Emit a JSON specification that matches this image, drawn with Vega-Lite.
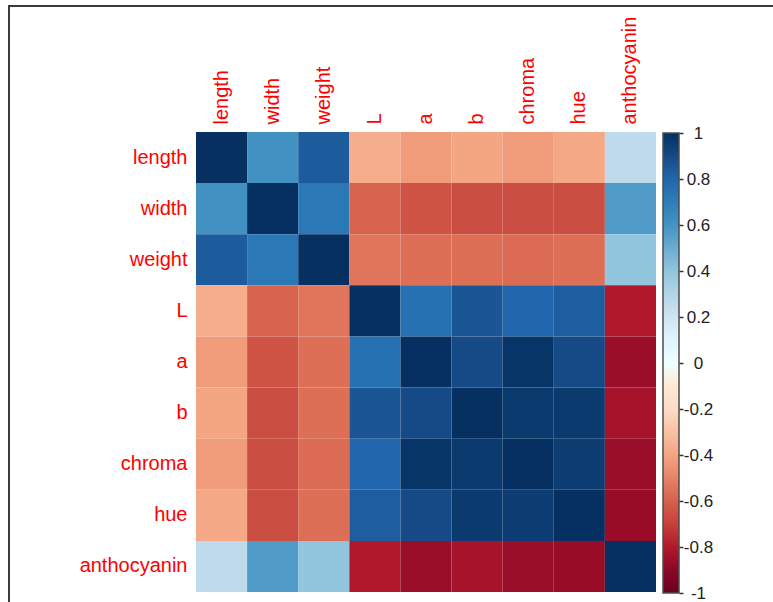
{
  "$schema": "https://vega.github.io/schema/vega-lite/v6.json",
  "width": 766,
  "height": 598,
  "autosize": {"type": "none"},
  "padding": {"left": 9, "top": 6, "right": -2, "bottom": -2},
  "background": "white",
  "config": {
    "view": {"stroke": "#3a3a3a", "strokeWidth": 2},
    "font": "Liberation Sans"
  },
  "data": {
    "values": [
      {"row": "length", "col": "length", "value": 1},
      {"row": "length", "col": "width", "value": 0.61},
      {"row": "length", "col": "weight", "value": 0.84},
      {"row": "length", "col": "L", "value": -0.37},
      {"row": "length", "col": "a", "value": -0.43},
      {"row": "length", "col": "b", "value": -0.40},
      {"row": "length", "col": "chroma", "value": -0.43},
      {"row": "length", "col": "hue", "value": -0.39},
      {"row": "length", "col": "anthocyanin", "value": 0.26},
      {"row": "width", "col": "length", "value": 0.61},
      {"row": "width", "col": "width", "value": 1},
      {"row": "width", "col": "weight", "value": 0.72},
      {"row": "width", "col": "L", "value": -0.59},
      {"row": "width", "col": "a", "value": -0.64},
      {"row": "width", "col": "b", "value": -0.66},
      {"row": "width", "col": "chroma", "value": -0.66},
      {"row": "width", "col": "hue", "value": -0.66},
      {"row": "width", "col": "anthocyanin", "value": 0.57},
      {"row": "weight", "col": "length", "value": 0.84},
      {"row": "weight", "col": "width", "value": 0.72},
      {"row": "weight", "col": "weight", "value": 1},
      {"row": "weight", "col": "L", "value": -0.54},
      {"row": "weight", "col": "a", "value": -0.56},
      {"row": "weight", "col": "b", "value": -0.56},
      {"row": "weight", "col": "chroma", "value": -0.57},
      {"row": "weight", "col": "hue", "value": -0.56},
      {"row": "weight", "col": "anthocyanin", "value": 0.40},
      {"row": "L", "col": "length", "value": -0.37},
      {"row": "L", "col": "width", "value": -0.59},
      {"row": "L", "col": "weight", "value": -0.54},
      {"row": "L", "col": "L", "value": 1},
      {"row": "L", "col": "a", "value": 0.75},
      {"row": "L", "col": "b", "value": 0.86},
      {"row": "L", "col": "chroma", "value": 0.80},
      {"row": "L", "col": "hue", "value": 0.83},
      {"row": "L", "col": "anthocyanin", "value": -0.80},
      {"row": "a", "col": "length", "value": -0.43},
      {"row": "a", "col": "width", "value": -0.64},
      {"row": "a", "col": "weight", "value": -0.56},
      {"row": "a", "col": "L", "value": 0.75},
      {"row": "a", "col": "a", "value": 1},
      {"row": "a", "col": "b", "value": 0.90},
      {"row": "a", "col": "chroma", "value": 0.98},
      {"row": "a", "col": "hue", "value": 0.90},
      {"row": "a", "col": "anthocyanin", "value": -0.86},
      {"row": "b", "col": "length", "value": -0.40},
      {"row": "b", "col": "width", "value": -0.66},
      {"row": "b", "col": "weight", "value": -0.56},
      {"row": "b", "col": "L", "value": 0.86},
      {"row": "b", "col": "a", "value": 0.90},
      {"row": "b", "col": "b", "value": 1},
      {"row": "b", "col": "chroma", "value": 0.96},
      {"row": "b", "col": "hue", "value": 0.96},
      {"row": "b", "col": "anthocyanin", "value": -0.83},
      {"row": "chroma", "col": "length", "value": -0.43},
      {"row": "chroma", "col": "width", "value": -0.66},
      {"row": "chroma", "col": "weight", "value": -0.57},
      {"row": "chroma", "col": "L", "value": 0.80},
      {"row": "chroma", "col": "a", "value": 0.98},
      {"row": "chroma", "col": "b", "value": 0.96},
      {"row": "chroma", "col": "chroma", "value": 1},
      {"row": "chroma", "col": "hue", "value": 0.95},
      {"row": "chroma", "col": "anthocyanin", "value": -0.86},
      {"row": "hue", "col": "length", "value": -0.39},
      {"row": "hue", "col": "width", "value": -0.66},
      {"row": "hue", "col": "weight", "value": -0.56},
      {"row": "hue", "col": "L", "value": 0.83},
      {"row": "hue", "col": "a", "value": 0.90},
      {"row": "hue", "col": "b", "value": 0.96},
      {"row": "hue", "col": "chroma", "value": 0.95},
      {"row": "hue", "col": "hue", "value": 1},
      {"row": "hue", "col": "anthocyanin", "value": -0.87},
      {"row": "anthocyanin", "col": "length", "value": 0.26},
      {"row": "anthocyanin", "col": "width", "value": 0.57},
      {"row": "anthocyanin", "col": "weight", "value": 0.40},
      {"row": "anthocyanin", "col": "L", "value": -0.80},
      {"row": "anthocyanin", "col": "a", "value": -0.86},
      {"row": "anthocyanin", "col": "b", "value": -0.83},
      {"row": "anthocyanin", "col": "chroma", "value": -0.86},
      {"row": "anthocyanin", "col": "hue", "value": -0.87},
      {"row": "anthocyanin", "col": "anthocyanin", "value": 1}
    ]
  },
  "layer": [
    {
      "mark": {"type": "rect"},
      "encoding": {
        "x": {
          "field": "col",
          "type": "nominal",
          "sort": ["length", "width", "weight", "L", "a", "b", "chroma", "hue", "anthocyanin"],
          "scale": {"paddingInner": 0, "paddingOuter": 0, "range": [187, 647], "round": false},
          "axis": {
            "orient": "top",
            "offset": -126,
            "title": null,
            "domain": false,
            "ticks": false,
            "tickSize": 0,
            "labelAngle": -90,
            "labelAlign": "left",
            "labelBaseline": "middle",
            "labelPadding": 8,
            "labelFontSize": 20,
            "labelColor": "#FF0000",
            "labelFont": "Liberation Sans",
            "grid": false
          }
        },
        "y": {
          "field": "row",
          "type": "nominal",
          "sort": ["length", "width", "weight", "L", "a", "b", "chroma", "hue", "anthocyanin"],
          "scale": {"paddingInner": 0, "paddingOuter": 0, "range": [126, 586], "round": false},
          "axis": {
            "orient": "left",
            "offset": -187,
            "title": null,
            "domain": false,
            "ticks": false,
            "tickSize": 0,
            "labelAlign": "right",
            "labelBaseline": "middle",
            "labelPadding": 9,
            "labelFontSize": 20,
            "labelColor": "#FF0000",
            "labelFont": "Liberation Sans",
            "grid": false
          }
        },
        "color": {
          "field": "value",
          "type": "quantitative",
          "scale": {
            "type": "linear",
            "domain": [-1, -0.8, -0.6, -0.4, -0.2, 0, 0.2, 0.4, 0.6, 0.8, 1],
            "range": ["#67001F", "#B2182B", "#D6604D", "#F4A582", "#FDDBC7", "#FFFFFF", "#D1E5F0", "#92C5DE", "#4393C3", "#2166AC", "#053061"]
          },
          "legend": {
            "orient": "none",
            "legendX": 654,
            "legendY": 127,
            "direction": "vertical",
            "title": null,
            "padding": 0,
            "gradientLength": 460,
            "gradientThickness": 16,
            "gradientStrokeColor": "#4d4d4d",
            "gradientStrokeWidth": 1.5,
            "labelExpr": "''"
          }
        }
      }
    },
    {
      "mark": {"type": "point", "opacity": 0},
      "encoding": {
        "y": {
          "field": "value",
          "type": "quantitative",
          "scale": {"domain": [-1, 1], "range": [587, 127], "nice": false, "zero": false},
          "axis": {
            "orient": "right",
            "offset": -96,
            "zindex": 2,
            "title": null,
            "domain": false,
            "grid": false,
            "ticks": true,
            "tickSize": 4,
            "tickWidth": 1.5,
            "tickColor": "#333333",
            "values": [-1, -0.8, -0.6, -0.4, -0.2, 0, 0.2, 0.4, 0.6, 0.8, 1],
            "labelExpr": "'' + datum.value",
            "labelAlign": "center",
            "labelBaseline": "middle",
            "labelPadding": 15,
            "labelFontSize": 17,
            "labelColor": "#222222",
            "labelFont": "Liberation Sans",
            "labelOverlap": false,
            "labelFlush": false
          }
        }
      }
    }
  ],
  "resolve": {"scale": {"y": "independent"}, "axis": {"y": "independent"}}
}
